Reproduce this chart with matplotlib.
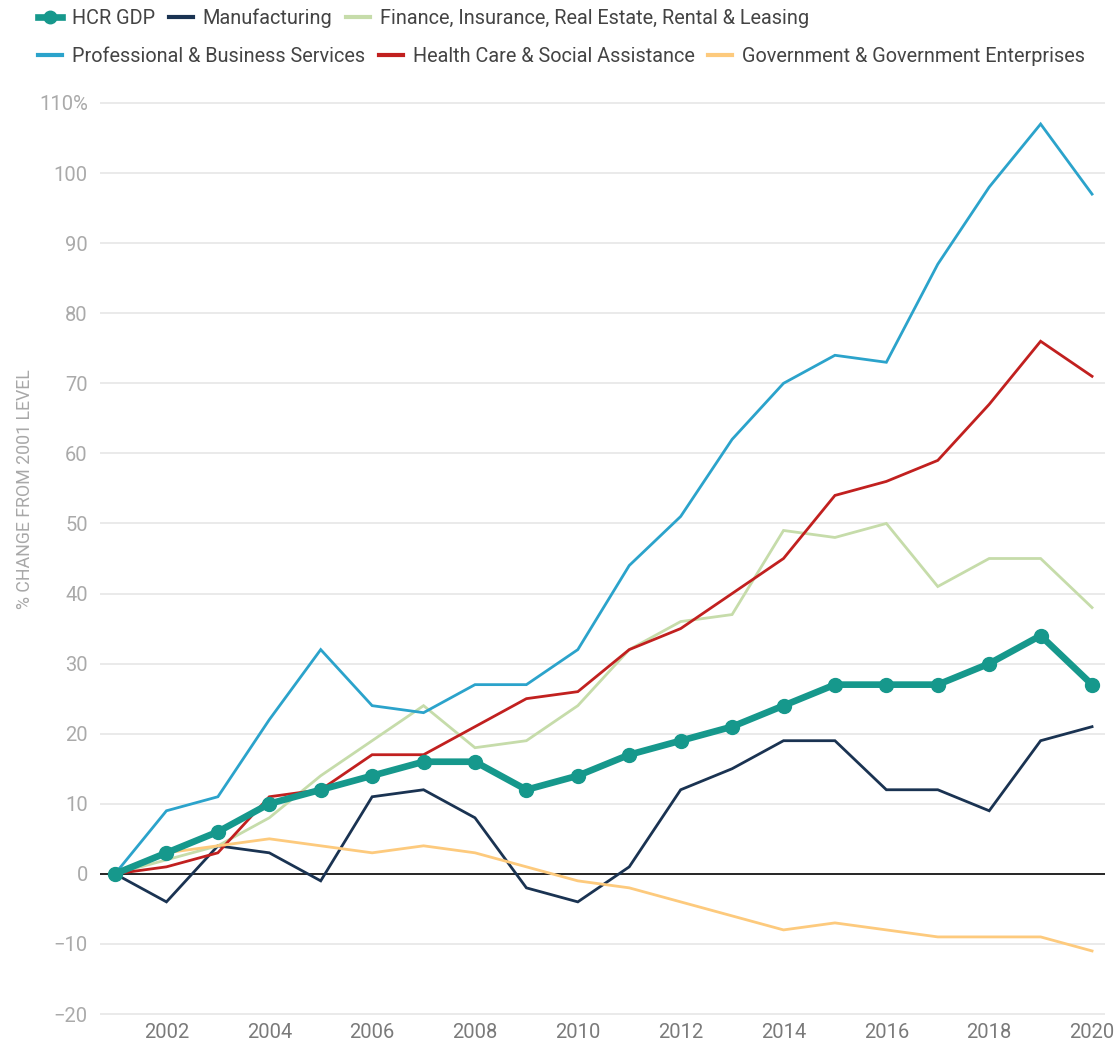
import matplotlib
matplotlib.use("Agg")
import matplotlib.pyplot as plt
from matplotlib.lines import Line2D

plt.rcParams['font.family'] = ['Roboto', 'DejaVu Sans']

years = list(range(2001, 2021))
hcr_gdp = [0, 3, 6, 10, 12, 14, 16, 16, 12, 14, 17, 19, 21, 24, 27, 27, 27, 30, 34, 27]
manufacturing = [0, -4, 4, 3, -1, 11, 12, 8, -2, -4, 1, 12, 15, 19, 19, 12, 12, 9, 19, 21]
finance = [0, 2, 4, 8, 14, 19, 24, 18, 19, 24, 32, 36, 37, 49, 48, 50, 41, 45, 45, 38]
professional = [0, 9, 11, 22, 32, 24, 23, 27, 27, 32, 44, 51, 62, 70, 74, 73, 87, 98, 107, 97]
health = [0, 1, 3, 11, 12, 17, 17, 21, 25, 26, 32, 35, 40, 45, 54, 56, 59, 67, 76, 71]
government = [0, 3, 4, 5, 4, 3, 4, 3, 1, -1, -2, -4, -6, -8, -7, -8, -9, -9, -9, -11]

series_names = ["HCR GDP", "Manufacturing", "Finance, Insurance, Real Estate, Rental & Leasing",
                "Professional & Business Services", "Health Care & Social Assistance",
                "Government & Government Enterprises"]
colors = ["#16988c", "#1a3352", "#c6dcaa", "#2ba3cb", "#c1201f", "#fdca7d"]

y_ticks = [-20, -10, 0, 10, 20, 30, 40, 50, 60, 70, 80, 90, 100, 110]
y_labels = ["\u221220", "\u221210", "0", "10", "20", "30", "40", "50", "60", "70", "80", "90", "100", "110%"]
x_ticks = list(range(2002, 2021, 2))

W, H = 1119, 1047
fig = plt.figure(figsize=(W / 100, H / 100), dpi=100)

xlim = (2000.7, 2020.25)
ylim = (-21, 111)
left_px, right_px = 99.6, 1104.9
top_px = 103 - 1 * 7.008
bot_px = 1014 + 1 * 7.008
ax = fig.add_axes([left_px / W, 1 - bot_px / H, (right_px - left_px) / W, (bot_px - top_px) / H])
ax.set_xlim(*xlim)
ax.set_ylim(*ylim)

for s in ax.spines.values():
    s.set_visible(False)

for yt in y_ticks:
    if yt != 0:
        ax.axhline(yt, color="#e6e6e6", lw=1.2, zorder=0)
ax.axhline(0, color="black", lw=1.2, zorder=1)

others = [(manufacturing, 1), (finance, 2), (professional, 3), (health, 4), (government, 5)]
for data, i in others:
    ax.plot(years, data, color=colors[i], lw=2.0, zorder=2, solid_joinstyle='miter')
ax.plot(years, hcr_gdp, color=colors[0], lw=4.8, marker="o", markersize=10, zorder=3)

ax.set_yticks(y_ticks)
ax.set_yticklabels(y_labels)
ax.set_xticks(x_ticks)
ax.set_xticklabels([str(x) for x in x_ticks])
ax.tick_params(axis="both", length=0, labelsize=14.5)
ax.tick_params(axis="y", pad=8.5, labelcolor="#aaaaaa")
ax.tick_params(axis="x", pad=1.5, labelcolor="#7a7a7a")

fig.text(25 / W, 1 - 489 / H, "% CHANGE FROM 2001 LEVEL", rotation=90, ha="center", va="center",
         fontsize=12.8, color="#a8a8a8")

handles = [Line2D([], [], color=colors[0], lw=4.8, marker="o", markersize=9)] + \
          [Line2D([], [], color=c, lw=3) for c in colors[1:]]

leg_kw = dict(frameon=False, fontsize=14.3, handlelength=1.2, handletextpad=0.5,
              columnspacing=0.7, ncol=3, borderaxespad=0, borderpad=0, labelcolor="#444444")
leg1 = fig.legend(handles[:3], series_names[:3], loc="center left",
                  bbox_to_anchor=(38 / W, 1 - 18 / H), **leg_kw)
leg2 = fig.legend(handles[3:], series_names[3:], loc="center left",
                  bbox_to_anchor=(38 / W, 1 - 56 / H), **leg_kw)

fig.savefig("out.png", dpi=100, facecolor="white")
